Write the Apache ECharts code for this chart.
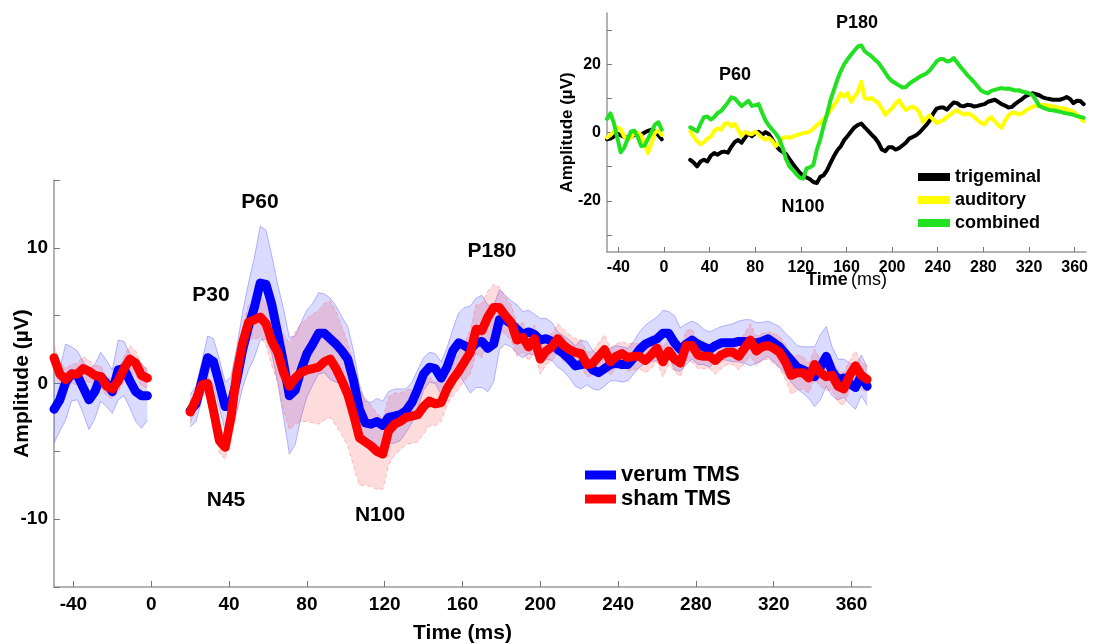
<!DOCTYPE html>
<html><head><meta charset="utf-8">
<script src="https://cdn.jsdelivr.net/npm/echarts@6/dist/echarts.min.js"></script>
<style>html,body{margin:0;padding:0;background:#fff}#c{width:1094px;height:644px}</style>
</head><body><div id="c"></div>
<script>
// ---- time grid (ms) ----
const preTimes = [-50,-47,-44,-41,-38,-35,-32,-29,-26,-23,-20,-17,-14,-11,-8,-5,-2];
const gapTime = 9;
const postTimes = [
20,23,26,29,32,35,38,41,44,47,
50,53,56,59,62,65,68,71,74,77,
80,83,86,89,92,95,98,101,104,107,
110,113,116,119,122,125,128,131,134,137,
140,143,146,149,152,155,158,161,164,167,
170,173,176,179,182,185,188,191,194,197,
200,203,206,209,212,215,218,221,224,227,
230,233,236,239,242,245,248,251,254,257,
260,263,266,269,272,275,278,281,284,287,
290,293,296,299,302,305,308,311,314,317,
320,323,326,329,332,335,338,341,344,347,
350,353,356,359,362,365,368];

// ---- main panel: verum TMS ----
const verumPre = [-1.9,-1.2,0.1,0.7,0.6,-0.3,-1.2,-0.6,0.5,0.0,-0.6,1.0,1.1,0.2,-0.6,-0.9,-0.9];
const verumPost = [
-2.0,-1.5,0.2,1.9,1.6,0.0,-1.7,-1.5,0.3,2.5,
4.2,5.6,7.4,7.3,5.8,3.7,1.5,-0.9,-0.5,1.0,
2.2,2.9,3.7,3.7,3.3,2.9,2.4,1.8,0.2,-1.9,
-2.9,-3.0,-2.8,-3.1,-2.5,-2.4,-2.3,-2.0,-1.4,-0.4,
0.7,1.2,1.1,0.4,1.2,2.4,3.0,2.8,2.5,3.0,
3.1,2.6,2.9,4.7,4.7,4.4,4.0,3.6,3.8,3.6,
3.2,3.3,3.1,2.5,2.2,1.8,1.3,1.4,1.5,1.0,
0.8,1.1,1.4,1.5,1.4,1.4,1.9,2.5,2.9,3.1,
3.3,3.7,3.7,3.0,2.5,2.9,3.2,2.9,2.7,2.5,
2.8,3.0,3.0,3.0,3.1,3.1,3.0,3.0,3.1,3.3,
3.0,2.7,2.2,1.7,1.2,1.0,0.8,0.5,1.2,2.0,
0.9,0.3,0.4,0.0,-0.3,0.6,-0.2];
const verumSemPre = [2.5,2.3,2.8,2.0,1.8,1.9,2.2,2.0,1.8,1.7,1.6,2.2,2.0,2.0,2.2,2.4,1.8];
const verumSemPost = [
1.2,1.3,1.4,1.6,1.7,1.8,1.8,2.0,2.4,2.8,
3.2,3.7,4.2,4.0,3.6,3.6,4.0,4.3,4.0,3.5,
3.2,3.0,3.0,2.9,3.0,2.8,2.5,2.4,2.2,1.8,
1.6,1.6,1.7,1.8,1.9,2.0,1.9,1.6,1.5,1.4,
1.2,1.1,1.1,1.2,1.4,1.6,2.2,2.8,3.2,3.3,
3.4,3.2,2.8,2.2,1.8,1.7,1.8,1.7,1.6,1.5,
1.6,1.5,1.4,1.3,1.3,1.4,1.5,1.8,1.6,1.4,
1.3,1.3,1.2,1.3,1.3,1.2,1.2,1.3,1.4,1.5,
1.6,1.7,1.6,2.0,1.6,1.5,1.4,1.5,1.3,1.3,
1.2,1.2,1.3,1.4,1.5,1.6,1.7,1.5,1.4,1.3,
1.4,1.5,1.5,1.6,1.6,1.7,1.9,2.2,2.4,2.2,
1.8,1.5,1.4,1.5,1.6,1.5,1.4];

// ---- main panel: sham TMS ----
const shamPre = [1.9,0.7,0.3,0.7,0.7,1.1,0.9,0.6,0.5,-0.2,-0.4,0.2,1.1,1.8,1.5,0.6,0.4];
const shamPost = [
-2.1,-1.2,-0.1,0.0,-2.0,-4.2,-4.7,-2.5,0.8,3.0,
4.5,4.7,4.9,4.4,3.1,2.3,0.8,-0.2,0.4,0.8,
1.0,1.1,1.2,1.6,1.8,1.1,0.2,-0.8,-2.3,-4.0,
-4.3,-4.6,-5.0,-5.2,-3.5,-3.0,-2.8,-2.5,-2.4,-2.3,
-1.7,-1.3,-1.5,-1.4,-0.4,0.3,0.9,1.6,2.3,4.0,
3.9,4.9,5.6,5.6,5.0,4.5,3.2,3.4,2.7,3.3,
1.8,2.4,2.7,3.3,2.8,2.5,2.3,2.2,1.4,1.5,
2.0,2.5,1.6,2.0,2.2,1.9,2.0,2.0,1.7,2.1,
2.6,1.6,2.4,1.8,1.5,2.8,2.8,2.1,2.0,2.0,
1.7,2.1,2.3,2.3,2.0,2.6,3.2,2.4,2.7,2.8,
2.6,2.3,1.6,0.6,0.8,0.8,0.4,1.4,0.8,0.5,
0.6,-0.2,-0.4,0.6,1.3,0.6,0.3];
const shamSemPre = [0.9,0.8,0.8,0.7,0.8,0.9,0.8,0.7,0.8,0.7,0.7,0.8,0.9,1.0,0.9,0.8,0.7];
const shamSemPost = [
0.8,0.8,0.8,0.9,0.9,0.9,0.9,1.0,1.1,1.2,
1.3,1.4,1.5,1.6,1.8,2.2,2.8,3.2,3.4,3.6,
3.8,4.0,4.2,4.3,4.3,4.2,4.0,3.8,3.8,3.5,
3.2,3.0,2.8,2.6,2.5,2.3,2.1,2.0,2.0,2.0,
2.0,1.8,1.6,1.4,1.2,1.2,1.3,1.4,1.6,1.8,
2.0,1.9,1.7,1.5,1.4,1.3,1.2,1.1,1.0,1.0,
1.1,1.0,1.0,1.1,1.2,1.1,1.0,1.0,0.9,0.9,
1.0,1.1,1.0,0.9,0.9,1.0,1.0,0.9,0.9,1.0,
1.0,1.1,1.0,0.9,1.0,1.1,1.2,1.0,0.9,0.9,
1.0,1.0,0.9,0.9,1.0,1.1,1.2,1.1,1.0,1.0,
1.1,1.2,1.3,1.4,1.3,1.2,1.1,1.1,1.0,1.0,
1.1,1.2,1.2,1.1,1.1,1.0,1.0];

// ---- inset panel ----
const trigPre = [-2.0,-1.8,-1.2,-0.3,-0.8,-1.3,-1.6,-1.2,-0.7,-0.6,-0.6,0.0,0.5,0.8,0.3,-0.8,-2.0];
const trigPost = [
null,-8.0,-8.8,-9.9,-8.5,-8.0,-8.5,-6.8,-6.0,-6.5,
-5.8,-5.6,-5.9,-4.2,-2.8,-2.2,-3.0,-1.5,-0.3,-1.1,
-0.2,0.2,-0.7,0.1,-0.5,-2.1,-3.8,-5.0,-5.7,-6.3,
-7.8,-9.2,-10.5,-11.8,-12.7,-13.2,-13.7,-14.5,-14.8,-13.0,
-12.5,-11.0,-8.9,-6.9,-5.2,-4.0,-2.2,-1.0,0.3,1.5,
2.2,2.6,1.5,0.5,-0.6,-1.6,-3.0,-5.0,-5.5,-4.3,
-4.3,-5.0,-4.6,-3.8,-3.0,-1.8,-1.3,-0.8,0.0,1.1,
2.2,3.5,5.5,7.0,7.3,7.3,6.7,7.8,8.8,8.6,
7.8,7.7,8.1,8.0,7.6,7.8,8.1,8.3,9.0,9.3,
9.6,9.0,8.3,7.9,7.3,7.5,8.4,9.1,9.8,10.6,
11.1,11.5,11.2,10.9,10.3,10.0,9.8,9.6,9.6,9.6,
9.9,10.4,9.8,8.6,9.3,9.2,8.3];
const audPre = [-1.5,-0.8,0.3,1.5,1.0,-1.2,-2.0,-1.5,-0.2,0.0,-0.8,-3.5,-6.0,-3.0,0.0,0.5,-0.7];
const audPost = [
null,0.3,-1.2,-2.5,-3.5,-2.8,-1.8,-1.2,0.5,1.2,
0.8,2.5,2.8,1.8,2.5,0.8,-1.0,0.2,-0.3,-0.5,
0.3,-0.6,-1.5,-2.1,-1.6,-2.5,-4.0,-2.8,-1.6,-1.3,
-1.6,-1.2,-0.8,-0.5,-0.2,0.0,0.3,1.2,2.2,2.8,
4.0,5.0,6.5,8.0,9.5,11.5,10.5,11.5,9.0,10.5,
12.0,14.8,10.0,9.8,10.1,9.3,8.6,7.0,5.2,6.2,
7.1,8.5,9.5,7.8,6.6,7.2,7.6,7.0,5.8,3.0,
4.2,5.0,3.8,2.8,3.2,3.7,4.5,5.2,6.0,6.5,
5.8,5.2,5.6,5.3,4.5,3.6,2.8,2.4,3.8,4.5,
3.3,2.2,1.4,3.5,5.0,5.8,5.8,5.3,5.6,6.4,
7.0,7.5,7.8,8.0,8.1,8.0,7.8,7.6,7.4,7.2,
7.1,6.8,6.5,6.1,5.2,4.2,3.3];
const combPre = [4.0,5.6,2.8,-1.5,-5.8,-4.5,-2.0,0.3,0.5,-1.3,-4.0,-3.8,-1.8,0.2,2.3,3.0,0.8];
const combPost = [
null,1.5,1.0,0.3,2.5,4.5,4.7,3.8,4.5,5.7,
6.3,7.5,8.8,10.3,10.0,8.8,7.7,8.5,9.3,7.8,
8.0,8.3,5.8,3.5,2.0,0.8,-0.3,-1.8,-4.5,-7.8,
-10.0,-11.0,-12.2,-13.2,-13.5,-10.5,-10.2,-9.5,-5.0,-2.0,
2.0,5.5,9.5,12.5,15.5,18.0,20.0,21.5,22.8,24.0,
25.2,25.5,23.8,23.0,22.3,21.3,20.4,19.0,17.5,16.0,
15.0,14.4,13.8,13.2,13.3,14.3,15.0,15.6,16.3,16.8,
17.3,18.2,19.5,20.8,21.5,21.5,20.8,21.0,21.8,20.5,
19.2,18.0,16.8,15.8,14.7,13.5,12.3,11.8,11.5,12.2,
12.5,12.8,13.0,12.8,12.9,12.6,12.3,12.4,12.0,11.8,
11.5,11.0,9.5,7.8,7.3,6.9,6.6,6.5,6.3,6.1,
5.8,5.6,5.4,5.2,4.8,4.6,4.3];

// ---- ticks / labels ----
const timeTicks = [-40,0,40,80,120,160,200,240,280,320,360];
const mainYTicks = [-15,-10,-5,0,5,10,15];
const mainYLabels = [-10,0,10];
const insetYTicks = [-30,-20,-10,0,10,20,30];
const insetYLabels = [-20,0,20];
const mainNames = ['verum TMS','sham TMS'];
const insetNames = ['trigeminal','auditory','combined'];

// ---- build series data ----
const allTimes = preTimes.concat([gapTime], postTimes);
function joined(pre, post){ return pre.concat([null], post); }
function pts(vals){ return allTimes.map((t,i)=>[t, vals[i]==null ? null : vals[i]]); }

const verum = joined(verumPre, verumPost);
const sham = joined(shamPre, shamPost);
const trig = joined(trigPre, trigPost), aud = joined(audPre, audPost), comb = joined(combPre, combPost);

const FONT = "'Liberation Sans', Arial, sans-serif";

function mkX(idx, fs, tickLen, nameGap, name, nameStyle){
  return {
    type:'value', gridIndex: idx, min:-50, max:370,
    axisLine:{show:true, onZero:false, lineStyle:{color:'#9a9a9a', width:1.5}},
    axisTick:{show:true, inside:true, length:tickLen, customValues: timeTicks, lineStyle:{color:'#777', width:1}},
    axisLabel:{customValues: timeTicks, fontSize:fs, fontWeight:'bold', color:'#000', fontFamily:FONT, margin:8},
    splitLine:{show:false},
    name:name, nameLocation:'middle', nameGap:nameGap, nameMoveOverlap:false, nameTextStyle:nameStyle
  };
}
function mkY(idx, min, max, ticks, labels, fs, tickLen, nameGap, nameFs){
  return {
    type:'value', gridIndex: idx, min:min, max:max,
    axisLine:{show:true, onZero:false, lineStyle:{color:'#9a9a9a', width:1.5}},
    axisTick:{show:true, inside:true, length:tickLen, customValues: ticks, lineStyle:{color:'#777', width:1}},
    axisLabel:{customValues: labels, fontSize:fs, fontWeight:'bold', color:'#000', fontFamily:FONT, margin:6},
    splitLine:{show:false},
    name:'Amplitude (µV)', nameLocation:'middle', nameGap:nameGap, nameMoveOverlap:false,
    nameTextStyle:{fontSize:nameFs, fontWeight:'bold', color:'#000', fontFamily:FONT}
  };
}

// confidence band drawn as polygon (mean ± sem) through the axes' own coord mapping
function bandSeries(name, segs, fill, edge, dashed){
  return {
    name:name, type:'custom', xAxisIndex:0, yAxisIndex:0, silent:true, z:1,
    data: segs.map((s,i)=>[s.times[0], s.mean[0], i]),
    encode:{x:0, y:1},
    renderItem:function(params, api){
      const s = segs[api.value(2)];
      const up = s.times.map((t,k)=>api.coord([t, s.mean[k] + s.sem[k]]));
      const lo = s.times.map((t,k)=>api.coord([t, s.mean[k] - s.sem[k]]));
      const es = {stroke:edge, lineWidth:1, fill:null};
      if (dashed) es.lineDash = [4,3];
      return {type:'group', children:[
        {type:'polygon', shape:{points: up.concat(lo.slice().reverse())}, style:{fill:fill, stroke:null}},
        {type:'polyline', shape:{points: up}, style:Object.assign({}, es)},
        {type:'polyline', shape:{points: lo}, style:Object.assign({}, es)}
      ]};
    }
  };
}
function line(name, ax, data, color, w, z){
  return {name:name, type:'line', xAxisIndex:ax, yAxisIndex:ax, data:pts(data), symbol:'none',
    connectNulls:false, color:color, lineStyle:{color:color, width:w, cap:'round', join:'round'}, z:z};
}

const TF = (px)=> "bold " + px + "px 'Liberation Sans', Arial";

const option = {
  animation:false,
  backgroundColor:'#fff',
  grid:[
    {left:54, top:180, width:817, height:407, outerBoundsMode:'none', containLabel:false},
    {left:607, top:13, width:479, height:239, outerBoundsMode:'none', containLabel:false}
  ],
  xAxis:[
    mkX(0, 19, 6, 36, 'Time (ms)', {fontSize:21, fontWeight:'bold', color:'#000', fontFamily:FONT}),
    mkX(1, 16, 5, 19, '{b|Time} {n|(ms)}', {rich:{b:{fontSize:18, fontWeight:'bold', color:'#000', fontFamily:FONT}, n:{fontSize:18, color:'#000', fontFamily:FONT}}})
  ],
  yAxis:[
    mkY(0, -15, 15, mainYTicks, mainYLabels, 19, 6, 21, 21),
    mkY(1, -35, 35, insetYTicks, insetYLabels, 16, 5, 31, 17)
  ],
  legend:[
    {data:mainNames, orient:'vertical', left:580, top:459, icon:'rect', itemWidth:31, itemHeight:9, itemGap:2,
     selectedMode:false, textStyle:{fontSize:22, fontWeight:'bold', color:'#000', fontFamily:FONT, lineHeight:21}},
    {data:insetNames, orient:'vertical', left:913, top:161, icon:'rect', itemWidth:32, itemHeight:8, itemGap:1,
     selectedMode:false, textStyle:{fontSize:18, fontWeight:'bold', color:'#000', fontFamily:FONT, lineHeight:22}}
  ],
  graphic:[
    {type:'text', x:260, y:202, style:{text:'P60', align:'center', verticalAlign:'middle', font:TF(21)}},
    {type:'text', x:211, y:295, style:{text:'P30', align:'center', verticalAlign:'middle', font:TF(21)}},
    {type:'text', x:226, y:500, style:{text:'N45', align:'center', verticalAlign:'middle', font:TF(21)}},
    {type:'text', x:380, y:515, style:{text:'N100', align:'center', verticalAlign:'middle', font:TF(21)}},
    {type:'text', x:492, y:251, style:{text:'P180', align:'center', verticalAlign:'middle', font:TF(21)}},
    {type:'text', x:735, y:75, style:{text:'P60', align:'center', verticalAlign:'middle', font:TF(18)}},
    {type:'text', x:857, y:23, style:{text:'P180', align:'center', verticalAlign:'middle', font:TF(18)}},
    {type:'text', x:803, y:207, style:{text:'N100', align:'center', verticalAlign:'middle', font:TF(18)}}
  ],
  series:[
    bandSeries('verumBand', [
      {times:preTimes, mean:verumPre, sem:verumSemPre},
      {times:postTimes, mean:verumPost, sem:verumSemPost}
    ], 'rgba(40,40,255,0.17)', 'rgba(100,100,255,0.45)', false),
    bandSeries('shamBand', [
      {times:preTimes, mean:shamPre, sem:shamSemPre},
      {times:postTimes, mean:shamPost, sem:shamSemPost}
    ], 'rgba(255,40,40,0.16)', 'rgba(255,110,110,0.45)', true),
    line('verum TMS', 0, verum, '#0000ff', 9, 3),
    line('sham TMS', 0, sham, '#ff0000', 9, 4),
    line('trigeminal', 1, trig, '#000000', 4, 3),
    line('auditory', 1, aud, '#ffff00', 4, 4),
    line('combined', 1, comb, '#22e022', 4, 5)
  ]
};
const chart = echarts.init(document.getElementById('c'), null, {renderer:'canvas'});
chart.setOption(option);
</script></body></html>
